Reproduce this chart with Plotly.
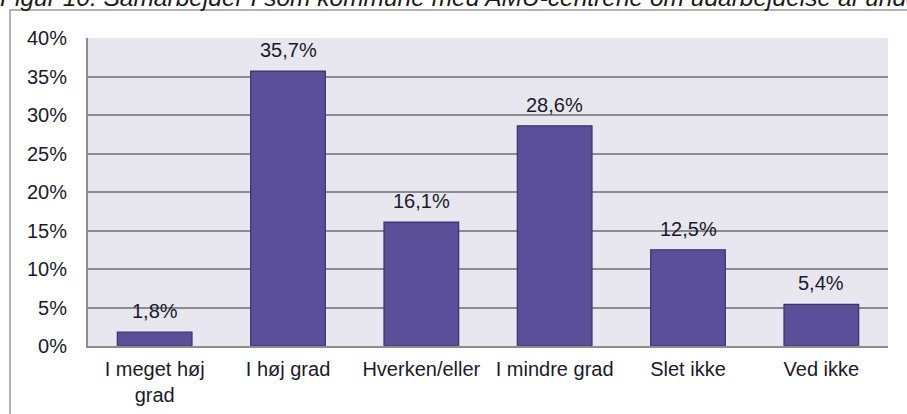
import plotly.graph_objects as go

categories = ["I meget høj<br>grad", "I høj grad", "Hverken/eller", "I mindre grad", "Slet ikke", "Ved ikke"]
values = [1.8, 35.7, 16.1, 28.6, 12.5, 5.4]
labels = ["1,8%", "35,7%", "16,1%", "28,6%", "12,5%", "5,4%"]
tick_vals = [0, 5, 10, 15, 20, 25, 30, 35, 40]
tick_text = ["0%", "5%", "10%", "15%", "20%", "25%", "30%", "35%", "40%"]
title_text = "Figur 10: Samarbejder I som kommune med AMU-centrene om udarbejdelse af undervisningsforløb?"

FONT = "Liberation Sans, Arial, sans-serif"
FS = 20
TXT = "#1a1a2a"
W, H = 907, 414
L, R, T, B = 88, 19, 38, 68
pw, ph = W - L - R, H - T - B

fig = go.Figure()
fig.add_trace(go.Bar(
    x=categories, y=values,
    marker=dict(color="#5B4F99", line=dict(color="#3A3270", width=1.2)),
    width=0.56,
    hoverinfo="skip",
))

for c, v, t in zip(categories, values, labels):
    fig.add_annotation(x=c, y=v, text=t, showarrow=False, yanchor="middle",
                       yshift=21, font=dict(family=FONT, size=FS, color=TXT))

# cut-off title at very top
fig.add_annotation(xref="paper", yref="paper", x=(-2 - L) / pw, y=(H - B - 13) / ph,
                   xanchor="left", yanchor="bottom", text="<i>" + title_text + "</i>",
                   showarrow=False, font=dict(family=FONT, size=24.5, color="#1a1a1a"))

# outer chart frame
fig.add_shape(type="rect", xref="paper", yref="paper",
              x0=(10 - L) / pw, x1=1.5, y0=-1, y1=(H - B - 10) / ph,
              line=dict(color="#9a9a9a", width=1.5), fillcolor="rgba(0,0,0,0)", layer="below")

fig.update_layout(
    width=W, height=H,
    margin=dict(l=L, r=R, t=T, b=B, pad=0, autoexpand=False),
    paper_bgcolor="white",
    plot_bgcolor="#E8E7EF",
    showlegend=False,
    bargap=0.44,
    font=dict(family=FONT, size=FS, color=TXT),
)
fig.update_xaxes(
    automargin=False,
    showgrid=False, showline=True, linecolor="#8c8c8c", linewidth=2,
    ticks="outside", ticklen=4, tickcolor="rgba(0,0,0,0)",
    tickfont=dict(family=FONT, size=FS, color=TXT),
)
fig.update_yaxes(
    automargin=False,
    range=[0, 40], tickvals=tick_vals, ticktext=tick_text,
    showgrid=True, gridcolor="#8c8c8c", gridwidth=2,
    showline=True, linecolor="#8c8c8c", linewidth=2,
    ticks="outside", ticklen=15, tickcolor="rgba(0,0,0,0)",
    tickfont=dict(family=FONT, size=FS, color=TXT),
    zeroline=False,
)

fig.write_html("out.html", config={"displayModeBar": False},
               post_script="document.body.style.margin='0px';")
